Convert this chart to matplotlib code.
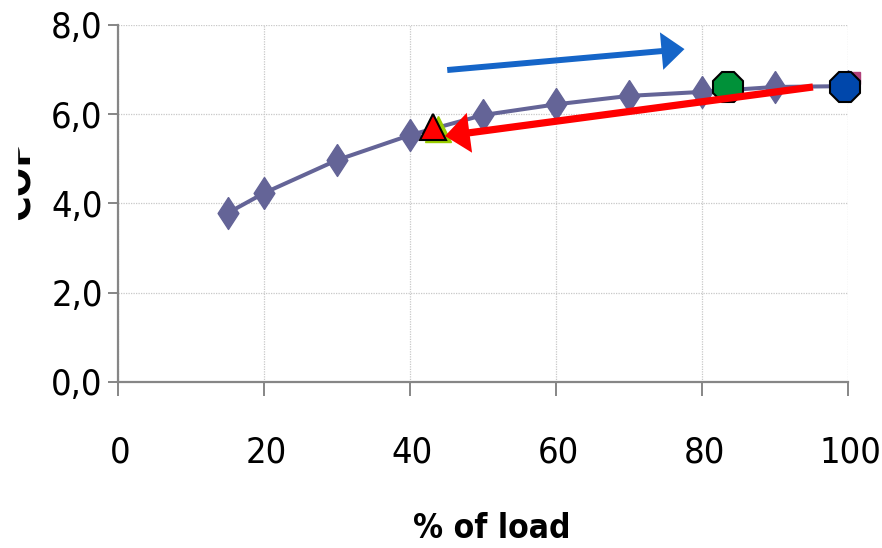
import numpy as np
import matplotlib
matplotlib.use("Agg")
import matplotlib.pyplot as plt
import matplotlib.transforms as mtransforms
from matplotlib.patches import Rectangle

# data
load = [15, 20, 30, 40, 50, 60, 70, 80, 90, 100]
cop = [3.78, 4.23, 4.97, 5.53, 5.98, 6.22, 6.41, 6.50, 6.61, 6.63]

tri_pt = (43.2, 5.72)      # red triangle
green_pt = (83.6, 6.61)    # green octagon
blue_pt = (99.6, 6.62)     # blue octagon

blue_arrow = [(45.1, 6.99), (77.6, 7.46)]   # tail, tip
red_arrow = [(95.2, 6.61), (44.8, 5.51)]    # tail, tip

xticks = [0, 20, 40, 60, 80, 100]
yticks = [0, 2, 4, 6, 8]
ytick_labels = ["0,0", "2,0", "4,0", "6,0", "8,0"]

plt.rcParams['font.family'] = ['DejaVu Sans']
plt.rcParams['font.stretch'] = 'condensed'

fig = plt.figure(figsize=(8.82, 5.48), dpi=100)
ax = fig.add_axes([118/882, 1-381.7/548, (848-118)/882, (381.7-25)/548])

diamond = [(0, 1), (0.65, 0), (0, -1), (-0.65, 0), (0, 1)]
ax.plot(load, cop, color="#646497", lw=2.9, marker=diamond, ms=23,
        mec="#646497", mfc="#646497", clip_on=False, zorder=3)

# markers hidden behind the highlighted points
ax.plot([tri_pt[0]+0.7], [tri_pt[1]-0.06], marker="^", ms=19, color="#99CC00",
        ls="none", clip_on=False, zorder=4)
ax.plot([blue_pt[0]+1.2], [blue_pt[1]+0.2], marker="s", ms=9, color="#B0407A",
        ls="none", clip_on=False, zorder=4)

ax.plot([tri_pt[0]], [tri_pt[1]], marker="^", ms=19, mfc="#FF0000", mec="black",
        mew=1.5, ls="none", clip_on=False, zorder=5)
ax.plot([green_pt[0]], [green_pt[1]], marker="8", ms=24, mfc="#009139", mec="black",
        mew=1.5, ls="none", clip_on=False, zorder=5)
ax.plot([blue_pt[0]], [blue_pt[1]], marker="8", ms=24, mfc="#0047AB", mec="black",
        mew=1.5, ls="none", clip_on=False, zorder=5)

ax.annotate("", xy=blue_arrow[1], xytext=blue_arrow[0],
            arrowprops=dict(arrowstyle="-|>,head_length=0.55,head_width=0.45",
                            mutation_scale=20, lw=4.3, color="#1565C8",
                            joinstyle="miter", capstyle="butt",
                            shrinkA=0, shrinkB=0), zorder=6)
ax.annotate("", xy=red_arrow[1], xytext=red_arrow[0],
            arrowprops=dict(arrowstyle="-|>,head_length=0.55,head_width=0.45",
                            mutation_scale=20, lw=5.2, color="#FF0000",
                            joinstyle="miter", capstyle="butt",
                            shrinkA=0, shrinkB=0), zorder=6)

ax.set_xlim(0, 100)
ax.set_ylim(0, 8)
ax.set_xticks(xticks)
ax.set_yticks(yticks)
ax.set_yticklabels(ytick_labels)
ax.grid(True, color="#c8c8c8", lw=0.9, ls=(0, (1, 1)))
ax.set_axisbelow(True)

for s in ["top", "right"]:
    ax.spines[s].set_visible(False)
for s in ["left", "bottom"]:
    ax.spines[s].set_color("#868686")
    ax.spines[s].set_linewidth(1.6)

ax.tick_params(axis="y", direction="out", length=7, width=1.4, color="#868686",
               labelsize=26, pad=4)
ax.tick_params(axis="x", direction="out", length=10, width=1.4, color="#868686",
               labelsize=26, pad=29)
offset = mtransforms.ScaledTranslation(1.5/72, 0, fig.dpi_scale_trans)
for lbl in ax.get_xticklabels():
    lbl.set_transform(lbl.get_transform() + offset)

fig.text(492/882, 1-528/548, "% of load", ha="center", va="center",
         fontsize=24, fontweight="bold")
fig.text(19/882, 1-180/548, "COP", ha="center", va="center", rotation=90,
         fontsize=28, fontweight="bold")
# left edge of the original picture cuts the axis title
fig.add_artist(Rectangle((0, 0), 17/882, 1, transform=fig.transFigure,
                         color="white", zorder=10))

fig.savefig("out.png", dpi=100)
